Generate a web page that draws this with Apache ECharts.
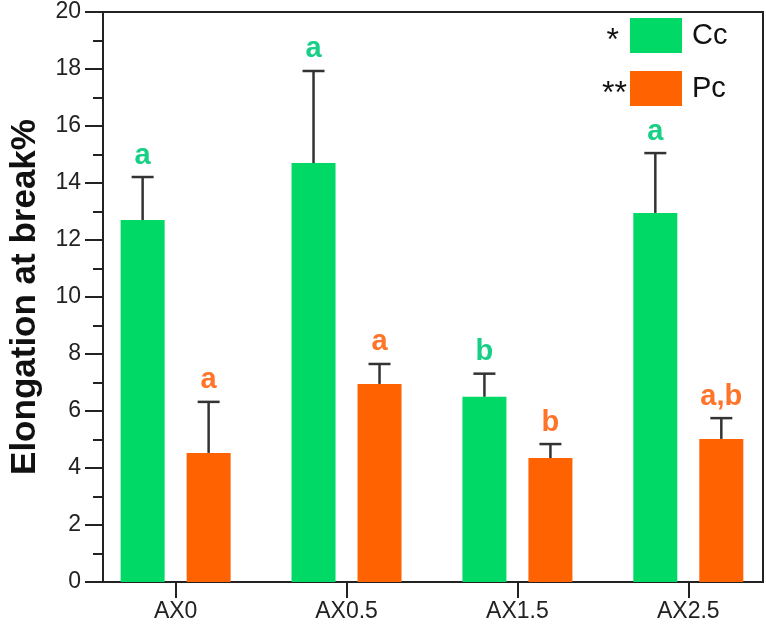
<!DOCTYPE html>
<html>
<head>
    <meta charset="utf-8">
    <title>Elongation at break</title>
    <script src="https://cdn.jsdelivr.net/npm/echarts@6/dist/echarts.min.js"></script>
</head>
<body style="margin:0">
    <div id="main" style="width:766px;height:631px;"></div>
    <script type="text/javascript">
        // data
        var categories = ['AX0', 'AX0.5', 'AX1.5', 'AX2.5'];
        var ccValues = [12.7, 14.7, 6.5, 12.95];
        var ccErrors = [1.51, 3.23, 0.81, 2.1];
        var ccLetters = ['a', 'a', 'b', 'a'];
        var pcValues = [4.53, 6.95, 4.35, 5.02];
        var pcErrors = [1.79, 0.7, 0.49, 0.73];
        var pcLetters = ['a', 'a', 'b', 'a,b'];
        var catPositions = [0, 1, 2, 3];

        var GREEN = '#00d966';
        var ORANGE = '#ff6200';
        var AXIS = '#222';
        var FONT = 'Arial, "Liberation Sans", sans-serif';

        var myChart = echarts.init(document.getElementById('main'));

        function toPairs(values) {
            return values.map(function (v, i) { return [catPositions[i], v]; });
        }

        // error bar + significance letter, shifted to sit on its bar
        function errorSeries(values, errors, letters, shift, color) {
            return {
                type: 'custom',
                z: 5,
                silent: true,
                data: values.map(function (v, i) { return [catPositions[i], v, v + errors[i]]; }),
                renderItem: function (params, api) {
                    var base = api.coord([api.value(0), api.value(1)]);
                    var top = api.coord([api.value(0), api.value(2)]);
                    var x = base[0] + shift;
                    var line = { stroke: '#333', lineWidth: 2.5 };
                    return {
                        type: 'group',
                        children: [
                            { type: 'line', shape: { x1: x, y1: base[1], x2: x, y2: top[1] }, style: line },
                            { type: 'line', shape: { x1: x - 11, y1: top[1], x2: x + 11, y2: top[1] }, style: line },
                            {
                                type: 'text', x: x, y: top[1] - 7,
                                style: {
                                    text: letters[params.dataIndex], fill: color,
                                    font: 'bold 29px ' + FONT, align: 'center', verticalAlign: 'bottom'
                                }
                            }
                        ]
                    };
                }
            };
        }

        var option = {
            animation: false,
            backgroundColor: '#fff',
            grid: {
                left: 100, right: 3, top: 12, bottom: 49,
                show: true, borderColor: AXIS, borderWidth: 2
            },
            legend: {
                data: ['Cc', 'Pc'],
                orient: 'vertical',
                left: 630, top: 18,
                padding: 0,
                itemWidth: 52, itemHeight: 35, itemGap: 18,
                icon: 'rect',
                selectedMode: false,
                textStyle: { fontSize: 29, color: '#111', fontFamily: FONT, padding: [0, 0, 0, 5] }
            },
            xAxis: {
                type: 'value',
                min: -0.425,
                max: 3.437,
                splitLine: { show: false },
                axisLine: { lineStyle: { color: AXIS, width: 2 } },
                axisTick: { customValues: catPositions, length: 16, lineStyle: { color: AXIS, width: 2 } },
                axisLabel: {
                    customValues: catPositions,
                    formatter: function (v) { return categories[v]; },
                    margin: 18, fontSize: 23, color: AXIS, fontFamily: FONT
                }
            },
            yAxis: {
                type: 'value',
                min: 0, max: 20, interval: 2,
                name: 'Elongation at break%',
                nameLocation: 'middle',
                nameGap: 60,
                nameTextStyle: { fontSize: 35, fontWeight: 'bold', color: '#111', fontFamily: FONT },
                splitLine: { show: false },
                axisLine: { show: true, onZero: false, lineStyle: { color: AXIS, width: 2 } },
                axisTick: { length: 18, lineStyle: { color: AXIS, width: 2 } },
                minorTick: { show: true, splitNumber: 2, length: 10, lineStyle: { color: AXIS, width: 2 } },
                axisLabel: { margin: 22, fontSize: 23, color: AXIS, fontFamily: FONT }
            },
            graphic: [
                { type: 'text', x: 619, y: 25, style: { text: '*', align: 'right', font: '32px ' + FONT, fill: '#111' } },
                { type: 'text', x: 627, y: 78, style: { text: '**', align: 'right', font: '32px ' + FONT, fill: '#111' } }
            ],
            series: [
                {
                    name: 'Cc', type: 'bar', data: toPairs(ccValues),
                    barWidth: 44, barGap: '50%',
                    itemStyle: { color: GREEN }
                },
                {
                    name: 'Pc', type: 'bar', data: toPairs(pcValues),
                    barWidth: 44, barGap: '50%',
                    itemStyle: { color: ORANGE }
                },
                errorSeries(ccValues, ccErrors, ccLetters, -33, '#17cf86'),
                errorSeries(pcValues, pcErrors, pcLetters, 33, '#ff7428')
            ]
        };

        myChart.setOption(option);
    </script>
</body>
</html>
